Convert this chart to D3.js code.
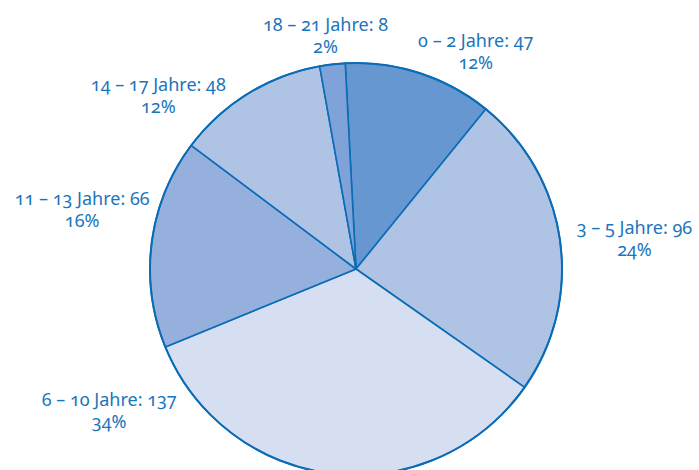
<!DOCTYPE html>
<html>
<head>
<meta charset="utf-8">
<script src="https://cdn.jsdelivr.net/npm/d3@7"></script>
<style>
  html, body { margin: 0; padding: 0; background: #fff; }
  svg { display: block; }
  text { font-family: "Noto Sans", sans-serif; font-variant-numeric: oldstyle-nums; }
</style>
</head>
<body>
<svg class="vis" width="699" height="470"></svg>
<script>
// data
const categories = ["0 – 2 Jahre", "3 – 5 Jahre", "6 – 10 Jahre", "11 – 13 Jahre", "14 – 17 Jahre", "18 – 21 Jahre"];
const values = [47, 96, 137, 66, 48, 8];
const percents = ["12%", "24%", "34%", "16%", "12%", "2%"];

// styling
const fills = ["#6797d0", "#afc3e4", "#d6dff1", "#95b0dc", "#afc3e4", "#7fa2d9"];
// label anchor: [angle in degrees clockwise from top, distance from centre]
const labelAnchors = [[29, 247], [84, 280], [240, 285], [282, 280], [311, 262], [352.5, 234]];

const w = 699, h = 470;
const cx = 356, cy = 269, r = 206;

const svg = d3.select("svg.vis");

const pie = d3.pie()
    .sort(null)
    .value(d => d)
    .startAngle(-3 * Math.PI / 180)
    .endAngle((360 - 3) * Math.PI / 180);

const arcs = pie(values);

const arc = d3.arc().innerRadius(0).outerRadius(r);

const g = svg.append("g").attr("transform", `translate(${cx},${cy})`);

g.selectAll("path.slice")
    .data(arcs)
    .join("path")
    .attr("class", "slice")
    .attr("d", arc)
    .attr("fill", (d, i) => fills[i])
    .attr("stroke", "#0a6cb6")
    .attr("stroke-width", 1.6)
    .attr("stroke-linejoin", "round");

// outer rim a bit heavier
g.append("circle")
    .attr("r", r)
    .attr("fill", "none")
    .attr("stroke", "#0a6cb6")
    .attr("stroke-width", 2);

const pos = i => {
    const a = labelAnchors[i][0] * Math.PI / 180;
    const dist = labelAnchors[i][1];
    return [dist * Math.sin(a), -dist * Math.cos(a)];
};

const lbl = g.selectAll("g.lbl")
    .data(arcs)
    .join("g")
    .attr("class", "lbl")
    .attr("transform", (d, i) => `translate(${pos(i)[0]},${pos(i)[1]})`);

lbl.append("text")
    .attr("text-anchor", "middle")
    .attr("fill", "#1a75bc")
    .attr("font-size", 18)
    .attr("y", -6)
    .text((d, i) => categories[i] + ": " + values[i]);

lbl.append("text")
    .attr("text-anchor", "middle")
    .attr("fill", "#1a75bc")
    .attr("font-size", 18)
    .attr("y", 16)
    .text((d, i) => percents[i]);
</script>
</body>
</html>
